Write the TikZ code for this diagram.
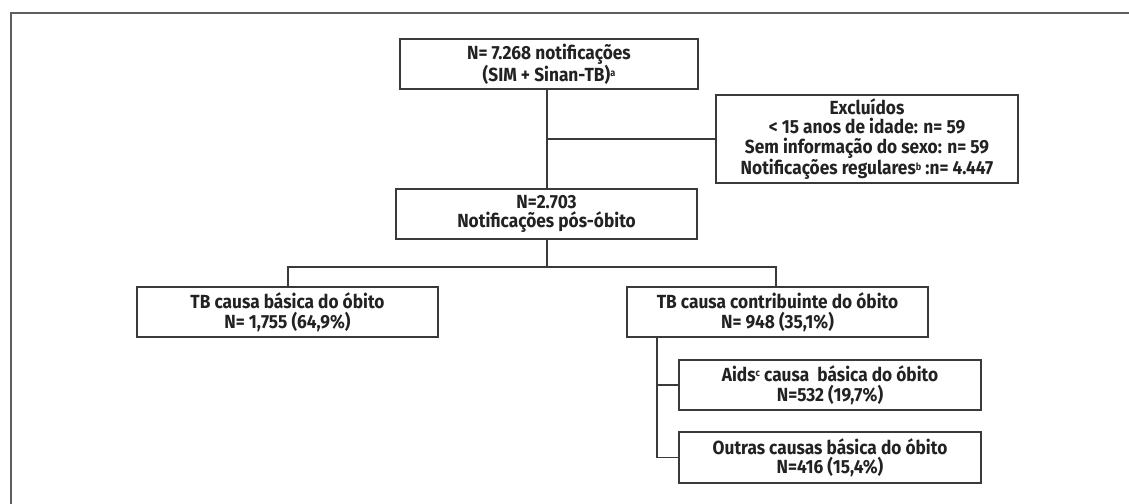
\documentclass[tikz,border=0pt]{standalone}
\usepackage{fontspec}
\setmainfont[FakeStretch=0.91]{Fira Sans}
\definecolor{linec}{HTML}{3A3A3A}
\definecolor{framec}{HTML}{5E5E5E}
\definecolor{textc}{HTML}{222222}
\tikzset{
  fbox/.style={draw=linec, line width=1.3pt, minimum width=301pt, minimum height=50pt,
    align=center, inner sep=0pt, text=textc,
    font=\fontsize{19}{19.5}\selectfont\bfseries},
  conn/.style={draw=linec, line width=1.3pt}
}
\newcommand{\sups}[1]{\raisebox{0.45ex}{\fontsize{10}{10}\selectfont #1}}
\begin{document}
\begin{tikzpicture}[x=1pt,y=-1pt]
\useasboundingbox (0,0) rectangle (1129,503);
\fill[white] (0,0) rectangle (1129,503);
\draw[framec, line width=2pt] (11,510) -- (11,13) -- (1135,13);
\node[fbox, minimum width=298pt] (n1) at (549,64) {N= 7.268 notificações\\(SIM + Sinan-TB)\sups{a}};
\node[fbox, minimum width=302pt, minimum height=88pt] (ex) at (867,139) {Excluídos\\< 15 anos de idade: n= 59\\Sem informação do sexo: n= 59\\Notificações regulares\sups{b} :n= 4.447};
\node[fbox] (n2) at (546.5,214) {N=2.703\\Notificações pós-óbito};
\node[fbox] (tb1) at (287.5,312) {TB causa básica do óbito\\N= 1,755 (64,9\%)};
\node[fbox] (tb2) at (777.5,312) {TB causa contribuinte do óbito\\N= 948 (35,1\%)};
\node[fbox, minimum width=302pt] (aids) at (830,385) {Aids\sups{c} causa \ básica do óbito\\N=532 (19,7\%)};
\node[fbox, minimum width=302pt, minimum height=51pt] (out) at (830,457.5) {Outras causas básica do óbito\\N=416 (15,4\%)};
\coordinate (j1) at (547,139);
\coordinate (j2) at (547,267);
\coordinate (jl) at (288,267);
\coordinate (jr) at (776,267);
\coordinate (c1) at (657,337);
\coordinate (c2) at (657,385);
\coordinate (c3) at (657,457.5);
\draw[conn] (n1.south -| j1) -- (n2.north -| j1);
\draw[conn] (j1) -- (ex.west);
\draw[conn] (n2.south -| j2) -- (j2);
\draw[conn] (tb1.north -| jl) -- (jl) -- (jr) -- (tb2.north -| jr);
\draw[conn] (c1) -- (c3) -- (out.west);
\draw[conn] (c2) -- (aids.west);
\end{tikzpicture}
\end{document}
